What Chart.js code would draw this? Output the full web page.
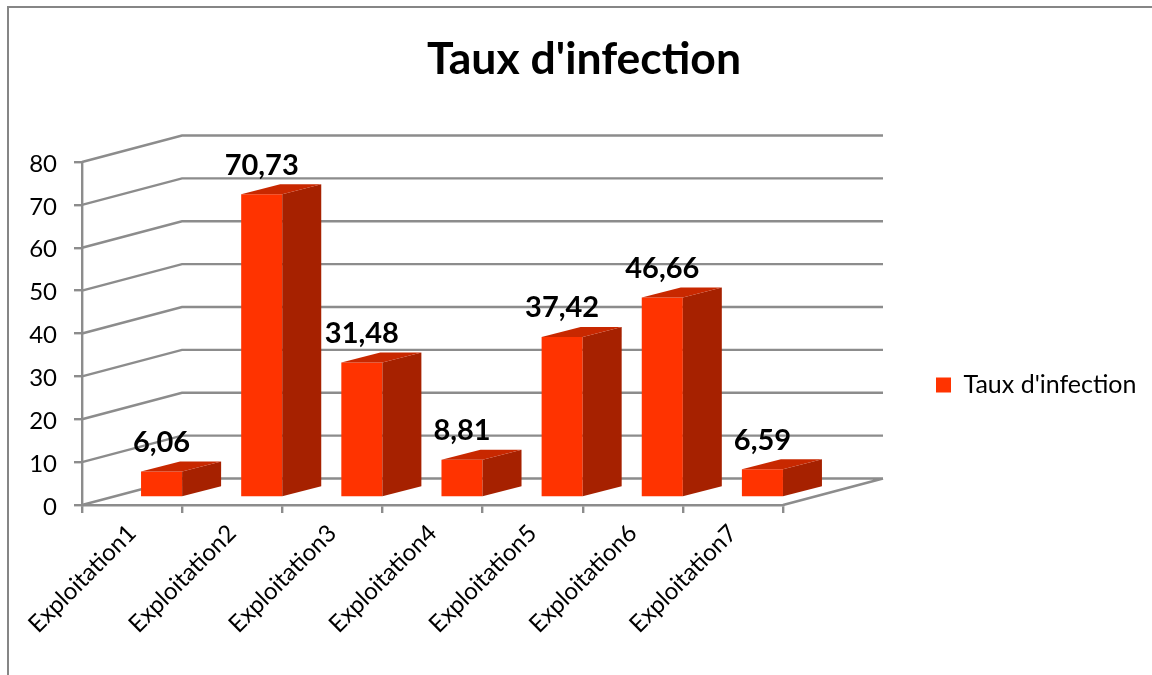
<!DOCTYPE html>
<html>
<head>
<meta charset="utf-8">
<title>Taux d'infection</title>
<script src="https://cdn.jsdelivr.net/npm/chart.js@4"></script>
<style>
  body { margin: 0; background: #fff; }
  canvas { display: block; }
</style>
</head>
<body>
<canvas id="myChart" width="1152" height="675"></canvas>
<script>
const categories = ['Exploitation1', 'Exploitation2', 'Exploitation3', 'Exploitation4',
  'Exploitation5', 'Exploitation6', 'Exploitation7'];
const seriesName = "Taux d'infection";
const seriesValues = [6.06, 70.73, 31.48, 8.81, 37.42, 46.66, 6.59];
const yTicks = [0, 10, 20, 30, 40, 50, 60, 70, 80];

const FONT = 'Lato, Carlito, sans-serif';
const GRAY = '#8c8c8c';
const FRONT = '#ff3300';
const SIDE = '#a62100';
const TOP = '#c82800';

// wall depth and bar depth of the fake 3D box
const wall = { dx: 100, dy: -26.5 };
const barShift = { dx: 29.5, dy: -7.5 };
const barDepth = { dx: 39, dy: -10 };

const frame = {
  id: 'frame',
  beforeDraw(chart) {
    const { ctx, width, height } = chart;
    ctx.save();
    ctx.strokeStyle = '#868686';
    ctx.lineWidth = 2;
    ctx.beginPath();
    ctx.moveTo(8, height);
    ctx.lineTo(8, 7);
    ctx.lineTo(width, 7);
    ctx.stroke();
    ctx.restore();
  }
};

// slanted side wall, back wall lines and floor edge
const walls = {
  id: 'walls',
  beforeDatasetsDraw(chart) {
    const { ctx, scales: { y }, chartArea: { left, right, bottom } } = chart;
    ctx.save();
    ctx.strokeStyle = GRAY;
    ctx.lineWidth = 2.4;
    ctx.beginPath();
    yTicks.forEach(t => {
      const py = y.getPixelForValue(t);
      ctx.moveTo(left, py);
      ctx.lineTo(left + wall.dx, py + wall.dy);
      ctx.lineTo(right + wall.dx, py + wall.dy);
    });
    ctx.moveTo(right, bottom);
    ctx.lineTo(right + wall.dx, bottom + wall.dy);
    ctx.stroke();
    ctx.restore();
  }
};

const bars3d = {
  id: 'bars3d',
  beforeDatasetDraw(chart) {
    chart.ctx.save();
    chart.ctx.translate(barShift.dx, barShift.dy);
  },
  afterDatasetDraw(chart, args) {
    const ctx = chart.ctx;
    args.meta.data.forEach(bar => {
      const l = bar.x - bar.width / 2;
      const r = bar.x + bar.width / 2;
      ctx.fillStyle = SIDE;
      ctx.beginPath();
      ctx.moveTo(r, bar.y);
      ctx.lineTo(r + barDepth.dx, bar.y + barDepth.dy);
      ctx.lineTo(r + barDepth.dx, bar.base + barDepth.dy);
      ctx.lineTo(r, bar.base);
      ctx.closePath();
      ctx.fill();
      ctx.fillStyle = TOP;
      ctx.beginPath();
      ctx.moveTo(l, bar.y);
      ctx.lineTo(l + barDepth.dx, bar.y + barDepth.dy);
      ctx.lineTo(r + barDepth.dx, bar.y + barDepth.dy);
      ctx.lineTo(r, bar.y);
      ctx.closePath();
      ctx.fill();
    });
    ctx.restore();
  },
  afterDatasetsDraw(chart) {
    const ctx = chart.ctx;
    ctx.save();
    ctx.fillStyle = '#000';
    ctx.font = 'bold 29px ' + FONT;
    ctx.textAlign = 'center';
    ctx.textBaseline = 'middle';
    chart.getDatasetMeta(0).data.forEach((bar, i) => {
      const label = seriesValues[i].toFixed(2).replace('.', ',');
      ctx.fillText(label, bar.x + barShift.dx, bar.y + barShift.dy - 29);
    });
    ctx.restore();
  }
};

// the legend keeps 369px of layout room, its entry sits further right
const legendPlace = {
  id: 'legendPlace',
  beforeLayout(chart) {
    const legend = chart.legend;
    if (legend.fitWrapped) return;
    const fit = legend.fit;
    legend.fit = function () {
      fit.call(this);
      this.width = 369;
    };
    legend.fitWrapped = true;
  },
  afterLayout(chart) {
    const legend = chart.legend;
    legend.left = 926;
    legend.top = 361;
    legend.bottom = 409;
  }
};

new Chart(document.getElementById('myChart'), {
  type: 'bar',
  data: {
    labels: categories,
    datasets: [{
      label: seriesName,
      data: seriesValues,
      backgroundColor: FRONT,
      barPercentage: 1,
      categoryPercentage: 0.41
    }]
  },
  options: {
    responsive: false,
    animation: false,
    layout: { autoPadding: false, padding: { left: 16 } },
    plugins: {
      tooltip: { enabled: false },
      title: {
        display: true,
        text: seriesName,
        color: '#000',
        font: { family: FONT, size: 44.5, weight: 'bold', lineHeight: 1.2 },
        padding: { top: 33, bottom: 75.6 }
      },
      legend: {
        position: 'right',
        labels: {
          color: '#000',
          font: { family: FONT, size: 25 },
          boxWidth: 15,
          boxHeight: 15
        }
      }
    },
    scales: {
      x: {
        afterFit(scale) { scale.height = 170; },
        grid: { drawOnChartArea: false, color: GRAY, lineWidth: 2.4, tickLength: 8 },
        border: { color: GRAY, width: 2.4 },
        ticks: {
          color: '#000',
          font: { family: FONT, size: 24 },
          minRotation: 45,
          maxRotation: 45,
          padding: 6
        }
      },
      y: {
        min: 0,
        max: 80,
        afterFit(scale) { scale.width = 66; },
        afterBuildTicks(scale) { scale.ticks = yTicks.map(value => ({ value })); },
        grid: { drawOnChartArea: false, color: GRAY, lineWidth: 2.4, tickLength: 8 },
        border: { color: GRAY, width: 2.4 },
        ticks: {
          color: '#000',
          font: { family: FONT, size: 24 },
          padding: 17,
          labelOffset: 2
        }
      }
    }
  },
  plugins: [frame, walls, bars3d, legendPlace]
});
</script>
</body>
</html>
